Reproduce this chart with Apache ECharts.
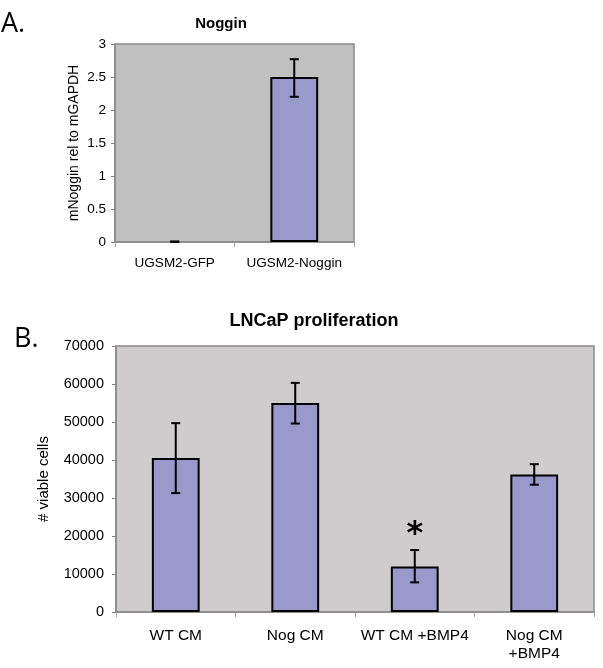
<!DOCTYPE html>
<html>
<head>
<meta charset="utf-8">
<script src="https://cdn.jsdelivr.net/npm/echarts@6/dist/echarts.min.js"></script>
<style>html,body{margin:0;padding:0;background:#fff}#c{width:603px;height:668px}</style>
</head>
<body>
<div id="c"></div>
<script>
// Panel A data
var catsA = ['UGSM2-GFP', 'UGSM2-Noggin'];
var valsA = [0, 2.5];
var errLowA = [0.005, 2.2];
var errHighA = [0.005, 2.77];
var ticksA = { min: 0, max: 3, interval: 0.5 };

// Panel B data
var catsB = ['WT CM', 'Nog CM', 'WT CM +BMP4', 'Nog CM\n+BMP4'];
var valsB = [40500, 55000, 12000, 36200];
var errLowB = [31300, 49600, 7800, 33500];
var errHighB = [49700, 60300, 16300, 38900];
var sigB = ['', '', '*', ''];
var ticksB = { min: 0, max: 70000, interval: 10000 };

var FONT = '"Liberation Sans", Arial, sans-serif';
var BAR = '#9999cc';
var GRID_BORDER = '#8a8a8a';

function barData(vals) {
  return vals.map(function (v) { return v === 0 ? { value: v, itemStyle: { borderWidth: 0 } } : v; });
}

function errSeries(xi, yi, low, high, sig) {
  var data = low.map(function (l, i) { return [i, l, high[i], sig ? sig[i] : '']; });
  return {
    type: 'custom', xAxisIndex: xi, yAxisIndex: yi, z: 5, silent: true,
    data: data,
    renderItem: function (params, api) {
      var i = api.value(0);
      var lo = api.coord([i, api.value(1)]);
      var hi = api.coord([i, api.value(2)]);
      var hw = 4.5;
      var st = { stroke: '#000', lineWidth: 2 };
      var children = [
        { type: 'line', shape: { x1: lo[0], y1: lo[1], x2: hi[0], y2: hi[1] }, style: st },
        { type: 'line', shape: { x1: lo[0] - hw, y1: lo[1], x2: lo[0] + hw, y2: lo[1] }, style: st },
        { type: 'line', shape: { x1: hi[0] - hw, y1: hi[1], x2: hi[0] + hw, y2: hi[1] }, style: st }
      ];
      var s = data[params.dataIndex][3];
      if (s) {
        children.push({ type: 'text', style: { text: s, x: hi[0], y: hi[1] + 1, textAlign: 'center', textVerticalAlign: 'bottom', fontSize: 32, fontWeight: 'bold', fontFamily: '"DejaVu Sans", sans-serif', fill: '#000' } });
      }
      return { type: 'group', children: children };
    }
  };
}

var chart = echarts.init(document.getElementById('c'), null, { renderer: 'canvas' });
chart.setOption({
  animation: false,
  backgroundColor: '#fff',
  graphic: [
    { type: 'text', left: 1, top: 11, style: { text: 'A.', fontSize: 27, fontFamily: '"Open Sans", sans-serif', fill: '#000' } },
    { type: 'text', left: 14, top: 326, style: { text: 'B.', fontSize: 27, fontFamily: '"Open Sans", sans-serif', fill: '#000' } },
    { type: 'text', x: 221, y: 24, style: { text: 'Noggin', fontSize: 15, fontWeight: 'bold', fontFamily: FONT, fill: '#000', textAlign: 'center', textVerticalAlign: 'middle' } },
    { type: 'text', x: 314, y: 321, style: { text: 'LNCaP proliferation', fontSize: 18, fontWeight: 'bold', fontFamily: FONT, fill: '#000', textAlign: 'center', textVerticalAlign: 'middle' } }
  ],
  grid: [
    { left: 115, top: 44, width: 239, height: 198, show: true, backgroundColor: '#c0c0c0', borderColor: GRID_BORDER, borderWidth: 1.5 },
    { left: 116, top: 346, width: 478, height: 266, show: true, backgroundColor: '#cecccc', borderColor: GRID_BORDER, borderWidth: 1.5 }
  ],
  xAxis: [
    { type: 'category', gridIndex: 0, data: catsA,
      axisLine: { lineStyle: { color: GRID_BORDER, width: 1.5 } },
      axisTick: { show: true, length: 5, interval: 0, lineStyle: { color: '#a0a0a0' } },
      axisLabel: { color: '#000', fontSize: 13.5, fontFamily: FONT, margin: 14, interval: 0 } },
    { type: 'category', gridIndex: 1, data: catsB,
      axisLine: { lineStyle: { color: GRID_BORDER, width: 1.5 } },
      axisTick: { show: true, length: 5, interval: 0, lineStyle: { color: '#a0a0a0' } },
      axisLabel: { color: '#000', fontSize: 15.5, lineHeight: 18, fontFamily: FONT, margin: 15, interval: 0 } }
  ],
  yAxis: [
    { type: 'value', gridIndex: 0, min: ticksA.min, max: ticksA.max, interval: ticksA.interval,
      name: 'mNoggin rel to mGAPDH', nameLocation: 'middle', nameGap: 34,
      nameTextStyle: { color: '#000', fontSize: 14, fontFamily: FONT },
      axisLine: { show: true, lineStyle: { color: GRID_BORDER, width: 1.5 } },
      axisTick: { show: true, length: 4, lineStyle: { color: '#808080' } },
      splitLine: { show: false },
      axisLabel: { color: '#000', fontSize: 13.5, fontFamily: FONT, margin: 9, formatter: function (v) { return String(v); } } },
    { type: 'value', gridIndex: 1, min: ticksB.min, max: ticksB.max, interval: ticksB.interval,
      name: '# viable cells', nameLocation: 'middle', nameGap: 65,
      nameTextStyle: { color: '#000', fontSize: 15, fontFamily: FONT },
      axisLine: { show: true, lineStyle: { color: GRID_BORDER, width: 1.5 } },
      axisTick: { show: true, length: 4, lineStyle: { color: '#808080' } },
      splitLine: { show: false },
      axisLabel: { color: '#000', fontSize: 14.5, fontFamily: FONT, margin: 12, formatter: function (v) { return String(v); } } }
  ],
  series: [
    { type: 'bar', xAxisIndex: 0, yAxisIndex: 0, data: barData(valsA), barWidth: '40%',
      itemStyle: { color: BAR, borderColor: '#000', borderWidth: 2 } },
    errSeries(0, 0, errLowA, errHighA, null),
    { type: 'bar', xAxisIndex: 1, yAxisIndex: 1, data: barData(valsB), barWidth: '40%',
      itemStyle: { color: BAR, borderColor: '#000', borderWidth: 2 } },
    errSeries(1, 1, errLowB, errHighB, sigB)
  ]
});
</script>
</body>
</html>
